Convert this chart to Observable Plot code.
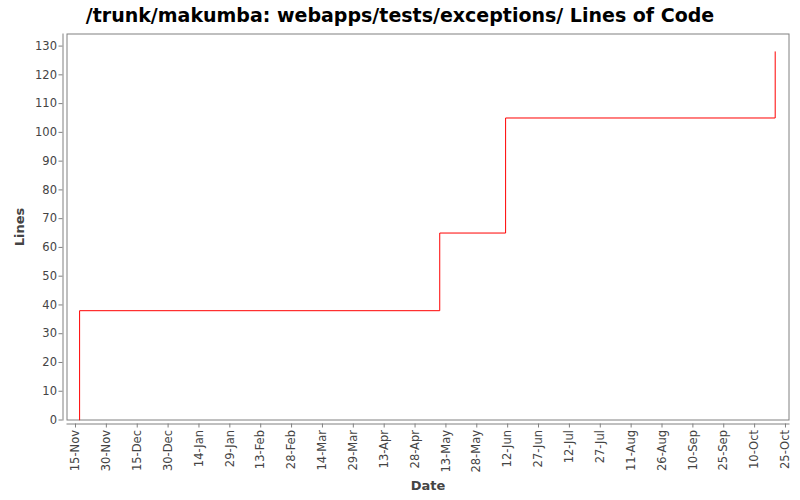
<!DOCTYPE html>
<html>
<head>
<meta charset="utf-8">
<script src="https://cdn.jsdelivr.net/npm/d3@7"></script>
<script src="https://cdn.jsdelivr.net/npm/@observablehq/plot@0.6"></script>
<style>
  html, body { margin: 0; padding: 0; background: #fff; }
  #title { width: 800px; height: 30px; line-height: 30px; text-align: center;
           font-family: "DejaVu Sans", sans-serif; font-weight: bold; font-size: 19px; color: #000; }
  #chart svg { display: block; font-family: "DejaVu Sans", sans-serif; }
  #chart g[aria-label="y-axis label"] text,
  #chart g[aria-label="x-axis label"] text { font-weight: bold; font-size: 13px; fill: #444; }
</style>
</head>
<body>
<div id="title">/trunk/makumba: webapps/tests/exceptions/ Lines of Code</div>
<div id="chart"></div>
<script>
const dates = ["2007-11-17", "2007-11-17", "2008-05-10", "2008-06-11", "2008-10-20"];
const lines = [0, 38, 65, 105, 128];
const xTicks = ["2007-11-15","2007-11-30","2007-12-15","2007-12-30","2008-01-14","2008-01-29",
  "2008-02-13","2008-02-28","2008-03-14","2008-03-29","2008-04-13","2008-04-28","2008-05-13",
  "2008-05-28","2008-06-12","2008-06-27","2008-07-12","2008-07-27","2008-08-11","2008-08-26",
  "2008-09-10","2008-09-25","2008-10-10","2008-10-25"];
const yTicks = [0,10,20,30,40,50,60,70,80,90,100,110,120,130];
const xDomain = ["2007-11-10T21:00Z", "2008-10-26T17:00Z"];
const yDomain = [0, 134.2];

const data = dates.map((d, i) => ({date: new Date(d), value: lines[i]}));

const chart = Plot.plot({
  width: 800,
  height: 470,
  marginTop: 3.5,
  marginBottom: 80.5,
  marginLeft: 66.5,
  marginRight: 11.5,
  style: {fontSize: "11.5px", color: "#444", background: "#fff"},
  x: {type: "utc", domain: xDomain.map(d => new Date(d))},
  y: {domain: yDomain},
  marks: [
    Plot.frame({stroke: "#808080"}),
    Plot.frame({anchor: "left", dx: -4, stroke: "#808080"}),
    Plot.frame({anchor: "bottom", dy: 4, stroke: "#808080"}),
    Plot.axisY({ticks: yTicks, tickSize: 4, dx: -4, tickPadding: 2, stroke: "#808080",
      label: "Lines", labelAnchor: "center", labelOffset: 52, labelArrow: "none"}),
    Plot.axisX({ticks: xTicks.map(d => new Date(d)), tickFormat: d3.utcFormat("%d-%b"),
      tickRotate: -90, tickSize: 4, dy: 4, tickPadding: 2, stroke: "#808080",
      label: "Date", labelAnchor: "center", labelOffset: 70, labelArrow: "none"}),
    Plot.line(data, {x: "date", y: "value", curve: "step-after", stroke: "#ff0000", strokeWidth: 1})
  ]
});
document.getElementById("chart").appendChild(chart);
</script>
</body>
</html>
